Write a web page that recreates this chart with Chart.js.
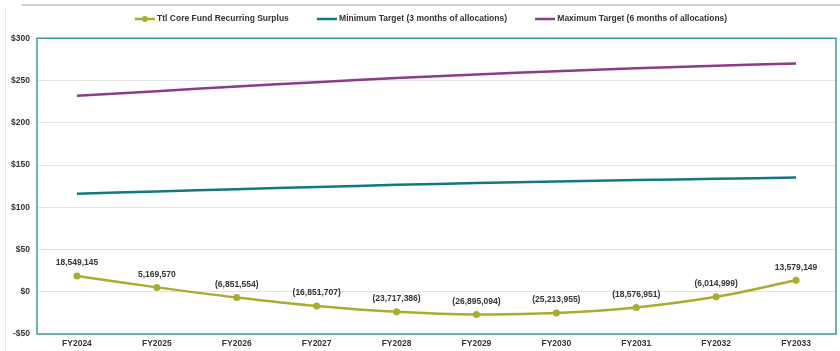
<!DOCTYPE html>
<html>
	<head>
		<meta charset="UTF-8">
		<title>Core Fund Surplus</title>
		<script src="https://cdn.jsdelivr.net/npm/chart.js"></script>
		<style>
			*{margin:0; padding:0;}
			body{background:#fff;}
			#wrap{position:relative; width:840px; height:351px;}
			#frameTop{position:absolute; left:22px; top:4px; width:818px; height:2px; background:#cfcfcf;}
			#frameLeft{position:absolute; left:5px; top:8px; width:1px; height:343px; background:#e6e6e6;}
			canvas{position:absolute; left:0; top:0;}
		</style>
	</head>
	<body>
		<div id="wrap">
			<div id="frameTop"></div>
			<div id="frameLeft"></div>
			<canvas id="myChart" width="840" height="351"></canvas>
		</div>
		<script>
			// fiscal years
			const years = ['FY2024','FY2025','FY2026','FY2027','FY2028','FY2029','FY2030','FY2031','FY2032','FY2033'];
			// recurring surplus, dollars
			const surplus = [18549145, 5169570, -6851554, -16851707, -23717386, -26895094, -25213955, -18576951, -6014999, 13579149];
			// targets, millions of dollars
			const minTarget = [116.0, 118.7, 121.4, 124.0, 126.5, 128.6, 130.5, 132.2, 133.7, 135.1];
			const maxTarget = [232.0, 237.4, 242.8, 248.0, 253.0, 257.2, 261.0, 264.4, 267.4, 270.2];
			const yTicks = [-50, 0, 50, 100, 150, 200, 250, 300];

			const olive = '#a8ad30';
			const teal = '#11787f';
			const purple = '#8b3b87';
			const fontFam = '"Liberation Sans", Arial, sans-serif';
			const labelFont = { family: fontFam, size: 8.5, weight: 'bold' };

			// legend swatch: blank space on the left, line (and dot) on the right
			function swatch(color, dot){
				const c = document.createElement('canvas');
				c.width = 36; c.height = 8;
				const g = c.getContext('2d');
				g.strokeStyle = color; g.lineWidth = 2.5;
				g.beginPath(); g.moveTo(16, 4); g.lineTo(36, 4); g.stroke();
				if(dot){
					g.fillStyle = color;
					g.beginPath(); g.arc(26, 4, 3, 0, Math.PI*2); g.fill();
				}
				return c;
			}
			const swatches = [swatch(olive, true), swatch(teal, false), swatch(purple, false)];

			function money(n){
				const s = Math.abs(Math.round(n)).toLocaleString('en-US');
				return n < 0 ? '(' + s + ')' : s;
			}

			// teal frame round the plot area
			const plotFrame = {
				id: 'plotFrame',
				afterDatasetsDraw(chart){
					const a = chart.chartArea, ctx = chart.ctx;
					ctx.save();
					ctx.strokeStyle = '#3d9aa0';
					ctx.lineWidth = 1.5;
					ctx.strokeRect(a.left, a.top, a.right - a.left, a.bottom - a.top);
					ctx.restore();
				}
			};

			// value labels above the surplus points
			const pointLabels = {
				id: 'pointLabels',
				afterDatasetsDraw(chart){
					const ctx = chart.ctx;
					const meta = chart.getDatasetMeta(0);
					ctx.save();
					ctx.font = 'bold 8.5px ' + fontFam;
					ctx.fillStyle = '#333';
					ctx.textAlign = 'center';
					ctx.textBaseline = 'middle';
					meta.data.forEach(function(pt, i){
						ctx.fillText(money(surplus[i]), pt.x, pt.y - 13);
					});
					ctx.restore();
				}
			};

			const ctx = document.getElementById('myChart');
			new Chart(ctx, {
				type: 'line',
				data: {
					labels: years,
					datasets: [{
						label: 'Ttl Core Fund Recurring Surplus',
						data: surplus.map(v => v / 1e6),
						borderColor: olive,
						backgroundColor: olive,
						borderWidth: 2.5,
						pointRadius: 3.5,
						pointBackgroundColor: olive,
						pointBorderWidth: 0,
						tension: 0.35
					},{
						label: 'Minimum Target (3 months of allocations)',
						data: minTarget,
						borderColor: teal,
						backgroundColor: teal,
						borderWidth: 2.5,
						pointRadius: 0,
						tension: 0.3
					},{
						label: 'Maximum Target (6 months of allocations)',
						data: maxTarget,
						borderColor: purple,
						backgroundColor: purple,
						borderWidth: 2.5,
						pointRadius: 0,
						tension: 0.3
					}]
				},
				options: {
					responsive: false,
					animation: false,
					layout: { padding: { top: 0.75, left: 10, right: 2, bottom: 0 } },
					plugins: {
						legend: {
							position: 'top',
							labels: {
								usePointStyle: true,
								pointStyleWidth: 32,
								padding: 14,
								color: '#333',
								font: labelFont,
								generateLabels(chart){
									const items = Chart.defaults.plugins.legend.labels.generateLabels(chart);
									items.forEach(function(it, i){ it.pointStyle = swatches[i]; });
									return items;
								}
							}
						},
						tooltip: { enabled: false }
					},
					scales: {
						x: {
							offset: true,
							grid: { display: false, drawTicks: false },
							border: { display: false },
							afterFit(scale){ scale.height = 17; },
							ticks: {
								padding: 5,
								color: '#333',
								font: labelFont
							}
						},
						// empty strip between legend and plot
						gap: {
							type: 'category',
							position: 'top',
							grid: { display: false, drawTicks: false },
							border: { display: false },
							ticks: { display: false },
							afterFit(scale){ scale.height = 5; }
						},
						y: {
							min: -50,
							max: 300,
							afterBuildTicks(scale){ scale.ticks = yTicks.map(v => ({ value: v })); },
							afterFit(scale){ scale.width = 27; },
							grid: { color: '#e3e3e3', lineWidth: 1, drawTicks: false },
							border: { display: false },
							ticks: {
								padding: 7,
								color: '#333',
								font: labelFont,
								callback: v => v < 0 ? '-$' + Math.abs(v) : '$' + v
							}
						}
					}
				},
				plugins: [plotFrame, pointLabels]
			});
		</script>
	</body>
</html>
